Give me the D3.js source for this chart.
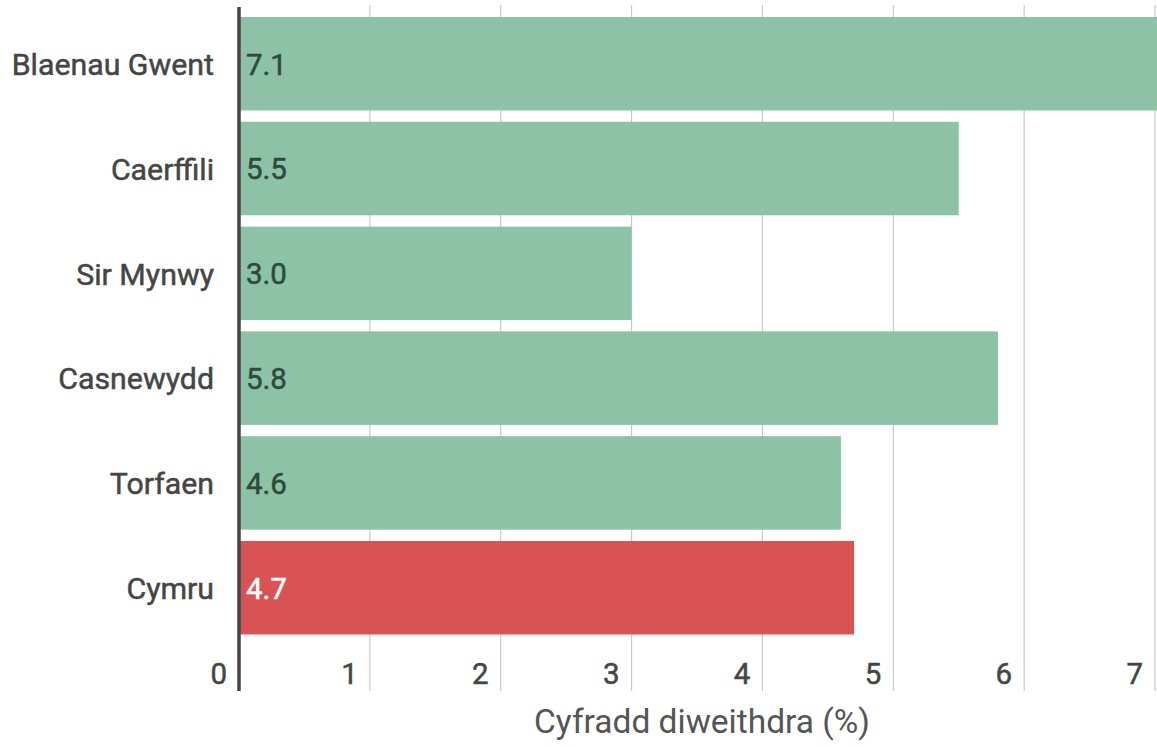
<!DOCTYPE html>
<html><head><meta charset="utf-8">
<script src="https://cdn.jsdelivr.net/npm/d3@7"></script>
<style>
html,body{margin:0;padding:0;background:#fff;}
svg{display:block;font-family:Roboto,"Noto Sans",sans-serif;}
</style></head>
<body><svg id="c" width="1157" height="747"></svg>
<script>
const categories = ["Blaenau Gwent","Caerffili","Sir Mynwy","Casnewydd","Torfaen","Cymru"];
const values = [7.1, 5.5, 3.0, 5.8, 4.6, 4.7];
const labels = ["7.1","5.5","3.0","5.8","4.6","4.7"];
const highlight = ["Cymru"];
const ticks = [0,1,2,3,4,5,6,7];
const axisTitle = "Cyfradd diweithdra (%)";

const svg = d3.select("#c");
const x = d3.scaleLinear().domain([0,7]).range([239,1155]);
const step = 104.8, pad = 0.108;
const y = d3.scaleBand().domain(categories).range([17, 17+step*(categories.length-pad)]).paddingInner(pad).paddingOuter(0);
const data = categories.map((c,i)=>({c, v:values[i], l:labels[i]}));

svg.append("defs").append("clipPath").attr("id","clip")
  .append("rect").attr("x",0).attr("y",0).attr("width",1157).attr("height",747);

// gridlines
svg.append("g").selectAll("line").data(ticks.filter(t=>t>0)).join("line")
  .attr("x1",d=>x(d)).attr("x2",d=>x(d)).attr("y1",5).attr("y2",691)
  .attr("stroke","#c8c8c8").attr("stroke-width",1.2);

// bars
svg.append("g").attr("clip-path","url(#clip)").selectAll("rect").data(data).join("rect")
  .attr("x",x(0)).attr("y",d=>y(d.c)).attr("width",d=>x(d.v)-x(0)).attr("height",y.bandwidth())
  .attr("fill",d=>highlight.includes(d.c)?"#d95254":"#8cc2a5");

// value labels
svg.append("g").selectAll("text").data(data).join("text")
  .attr("x",x(0)+7).attr("y",d=>y(d.c)+y.bandwidth()/2).attr("dy","0.37em")
  .attr("font-size",29.5)
  .attr("fill",d=>highlight.includes(d.c)?"#ffffff":"#2f4a3c")
  .attr("stroke",d=>highlight.includes(d.c)?"#ffffff":"#2f4a3c").attr("stroke-width",0.5)
  .text(d=>d.l);

// category labels
svg.append("g").selectAll("text").data(data).join("text")
  .attr("x",214).attr("y",d=>y(d.c)+y.bandwidth()/2).attr("dy","0.37em")
  .attr("text-anchor","end").attr("font-size",30.3).attr("fill","#454545")
  .attr("stroke","#454545").attr("stroke-width",0.5)
  .text(d=>d.c);

// axis line
svg.append("line").attr("x1",x(0)).attr("x2",x(0)).attr("y1",7).attr("y2",691)
  .attr("stroke","#444").attr("stroke-width",3.5);

// tick labels
svg.append("g").selectAll("text").data(ticks).join("text")
  .attr("x",d=>x(d)-12).attr("y",684)
  .attr("text-anchor","end").attr("font-size",29.5).attr("fill","#454545")
  .attr("stroke","#454545").attr("stroke-width",0.5)
  .text(d=>d);

// axis title
svg.append("text").attr("x",(x(0)+x(7))/2 + 5).attr("y",733)
  .attr("text-anchor","middle").attr("font-size",33.5).attr("fill","#555")
  .text(axisTitle);
</script></body></html>
